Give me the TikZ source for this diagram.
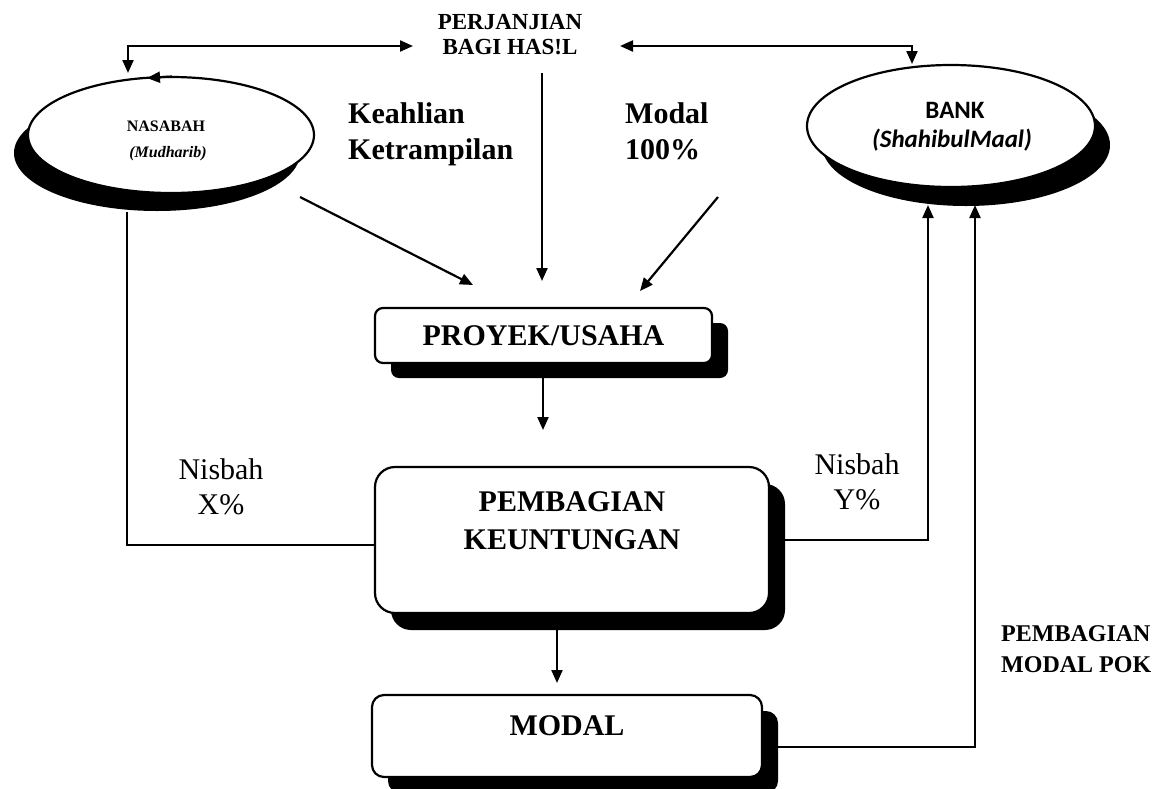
\documentclass[tikz,border=0pt]{standalone}
\usepackage{fontspec}
\setmainfont{Liberation Serif}
\newfontfamily\bankfont{Carlito}
\usetikzlibrary{arrows.meta,shapes.geometric}
\begin{document}
\begin{tikzpicture}[x=1pt,y=-1pt,
  tip/.style={-{Triangle[length=13pt,width=11pt]}},
  both/.style={{Triangle[length=13pt,width=11pt]}-{Triangle[length=13pt,width=11pt]}},
  line/.style={line width=2.2pt},
  boxw/.style={draw, line width=2.2pt, fill=white, rectangle, inner sep=0pt},
  shad/.style={fill=black, rectangle, inner sep=0pt},
  ellw/.style={ellipse, draw, line width=2.2pt, fill=white, inner sep=0pt},
  ells/.style={ellipse, fill=black, inner sep=0pt},
  bigb/.style={font=\fontsize{30}{36}\selectfont\bfseries, align=left, inner sep=0pt},
  boxt/.style={font=\fontsize{30}{38}\selectfont\bfseries, align=center, inner sep=0pt},
  nis/.style={font=\fontsize{30}{35}\selectfont, align=center, inner sep=0pt}
]
\useasboundingbox (0,0) rectangle (1163,788);

% ellipses
\node[ells, minimum width=286pt, minimum height=116pt] (nassh) at (157,153) {};
\node[ellw, minimum width=286pt, minimum height=116pt] (nas) at (171,135) {};
\node[font=\fontsize{16}{18}\selectfont\bfseries, inner sep=0pt] (nastxt) at (166,126) {NASABAH};
\node[font=\fontsize{16}{18}\selectfont\bfseries\itshape, inner sep=0pt] (nastxt2) at (168,154) {(Mudharib)};

\node[ells, minimum width=288pt, minimum height=122pt] (banksh) at (966,145) {};
\node[ellw, minimum width=288pt, minimum height=122pt] (bank) at (951,126) {};
\node[font=\fontsize{25}{27}\selectfont\bankfont\bfseries, inner sep=0pt] (banktxt) at (955,110) {BANK};
\node[font=\fontsize{25}{27}\selectfont\bankfont\bfseries\itshape, inner sep=0pt] (banktxt2) at (952,140) {(ShahibulMaal)};

% top text
\node[font=\fontsize{23}{25}\selectfont\bfseries, align=center, inner sep=0pt] (perj) at (510,35) {PERJANJIAN\\BAGI HAS!L};

\node[bigb, anchor=north west] (keah) at (348,102) {Keahlian\\Ketrampilan};
\node[bigb, anchor=north west] (modtxt) at (625,102) {Modal\\100\%};

% boxes
\node[shad, rounded corners=8pt, minimum width=337pt, minimum height=55pt] (proyeksh) at (559.5,350.5) {};
\node[boxw, rounded corners=8pt, minimum width=337pt, minimum height=55pt, font=\fontsize{30}{32}\selectfont\bfseries] (proyek) at (543.5,335.5) {PROYEK/USAHA};

\node[shad, rounded corners=20pt, minimum width=394pt, minimum height=146pt] (pembsh) at (588,557) {};
\node[boxw, rounded corners=20pt, minimum width=394pt, minimum height=146pt] (pemb) at (572,540) {};
\node[boxt] (pembtxt) at (572,521) {PEMBAGIAN\\KEUNTUNGAN};

\node[shad, rounded corners=12pt, minimum width=390pt, minimum height=82pt] (modalsh) at (583,752) {};
\node[boxw, rounded corners=12pt, minimum width=390pt, minimum height=82pt] (modal) at (567,736) {};
\node[font=\fontsize{30}{32}\selectfont\bfseries, inner sep=0pt] (modaltxt) at (567,726) {MODAL};

% labels
\node[nis] (nisx) at (221,487) {Nisbah\\X\%};
\node[nis] (nisy) at (857,482) {Nisbah\\Y\%};
\node[font=\fontsize{24}{31}\selectfont\bfseries, align=left, inner sep=0pt, anchor=north west] (pmp) at (1001,625) {PEMBAGIAN\\MODAL POK};

% coordinates for connector ends
\coordinate (nastop) at (128,73);
\coordinate (perjl) at (413,46);
\coordinate (perjr) at (620,46);
\coordinate (banktop) at (912,64);
\coordinate (nasarrA) at (172,76.5);
\coordinate (nasarrB) at (147,78);
\coordinate (perjbot) at (542,73);
\coordinate (proyin) at (542,281);
\coordinate (nasout) at (300,197);
\coordinate (proyinL) at (473,285);
\coordinate (bankout) at (718,197);
\coordinate (proyinR) at (640,291);
\coordinate (nasbot) at (127,212);
\coordinate (bankinL) at (928,205);
\coordinate (bankinR) at (975,205);
\coordinate (proyout) at (543,378);
\coordinate (pembin) at (543,430);
\coordinate (pembout) at (557,630);
\coordinate (modalin) at (557,683);

% connectors
\draw[line, both] (nastop) |- (perjl);
\draw[line, both] (perjr) -| (banktop);
\draw[line, tip] (nasarrA) -- (nasarrB);
\draw[line, tip] (perjbot) -- (proyin);
\draw[line, tip] (nasout) -- (proyinL);
\draw[line, tip] (bankout) -- (proyinR);
\draw[line, tip] (proyout) -- (pembin);
\draw[line, tip] (pembout) -- (modalin);
\draw[line] (nasbot) |- ([yshift=-5pt]pemb.west);
\draw[line, tip] (pemb.east) -| (bankinL);
\draw[line, tip] ([yshift=5pt]modalsh.east) -| (bankinR);
\end{tikzpicture}
\end{document}
